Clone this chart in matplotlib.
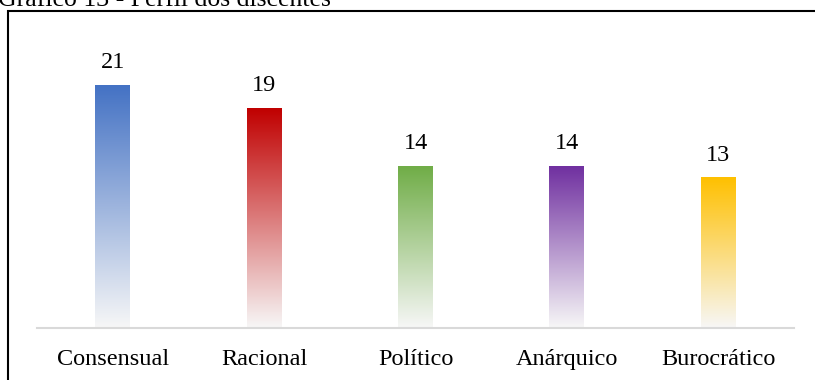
import numpy as np
import matplotlib.pyplot as plt
from matplotlib.colors import to_rgb
from matplotlib.patches import Rectangle

categories = ["Consensual", "Racional", "Político", "Anárquico", "Burocrático"]
values = [21, 19, 14, 14, 13]
colors = ["#4472C4", "#C00000", "#70AD47", "#7030A0", "#FFC000"]
title = "Gráfico 13 - Perfil dos discentes"

plt.rcParams["font.family"] = ["Liberation Serif", "DejaVu Serif"]

W, H = 815, 380
fig = plt.figure(figsize=(W / 100, H / 100), dpi=100)

# frame around the chart, right side falls off the page
fig.patches.append(Rectangle((7.5 / W, -0.1), 1.2, 1.1 - 10.5 / H,
                             transform=fig.transFigure, fill=False,
                             edgecolor="black", linewidth=1.5))
fig.text(-0.002, 1 - 5.5 / H, title, fontsize=18.5, va="baseline", ha="left")

ax = fig.add_axes([37 / W, 52 / H, (794 - 37) / W, 277.7 / H])

width = 0.23
bars = ax.bar(range(len(categories)), values, width=width, color="none")

fade = np.array(to_rgb("#F7F7F7"))
for bar, c, v in zip(bars, colors, values):
    top = np.array(to_rgb(c))
    t = np.linspace(0, 1, 256)[:, None]
    grad = top * (1 - t) + fade * t
    x0 = bar.get_x()
    ax.imshow(grad[:, None, :], extent=(x0, x0 + bar.get_width(), 0, v),
              aspect="auto", interpolation="bilinear", zorder=2)
    ax.annotate(str(v), (bar.get_x() + bar.get_width() / 2, v),
                xytext=(0, 17), textcoords="offset pixels",
                ha="center", va="baseline", fontsize=17.5)

ax.set_xlim(-0.5, len(categories) - 0.5)
ax.set_ylim(0, 24)
ax.set_xticks(range(len(categories)))
ax.set_xticklabels(categories, fontsize=17.5)
ax.tick_params(axis="x", length=0, pad=15)
ax.set_yticks([])
for side in ["top", "left", "right"]:
    ax.spines[side].set_visible(False)
ax.spines["bottom"].set_color("#D9D9D9")
ax.spines["bottom"].set_linewidth(1.5)
ax.spines["bottom"].set_zorder(3)
ax.patch.set_alpha(0)

fig.savefig("out.png", dpi=100)
